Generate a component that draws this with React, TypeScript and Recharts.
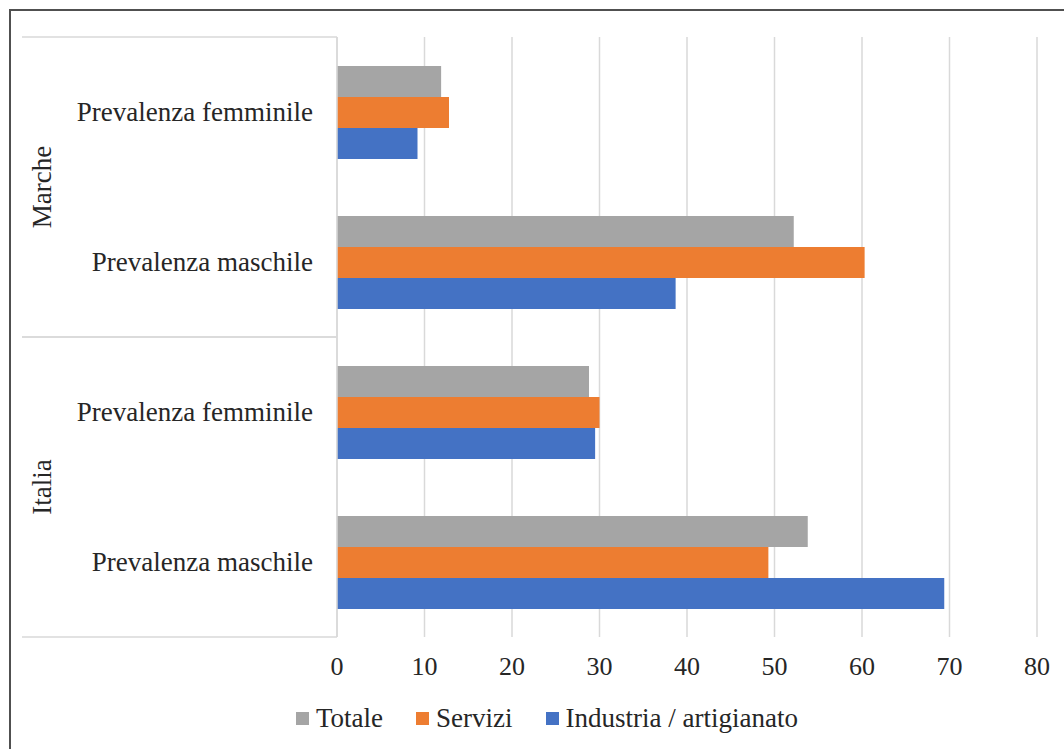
import React from "react";
import {
  BarChart,
  Bar,
  XAxis,
  YAxis,
  CartesianGrid,
  Legend,
} from "recharts";

// categories (two-level: region / prevalence)
const REGIONS = ["Marche", "Marche", "Italia", "Italia"];
const PREVALENZA = [
  "Prevalenza femminile",
  "Prevalenza maschile",
  "Prevalenza femminile",
  "Prevalenza maschile",
];

// series values (%)
const TOTALE = [11.9, 52.2, 28.8, 53.8];
const SERVIZI = [12.8, 60.3, 30.0, 49.3];
const INDUSTRIA = [9.2, 38.7, 29.5, 69.4];

const X_TICKS = [0, 10, 20, 30, 40, 50, 60, 70, 80];

const SERIES = [
  { key: "totale", name: "Totale", color: "#A5A5A5" },
  { key: "servizi", name: "Servizi", color: "#ED7D31" },
  { key: "industria", name: "Industria / artigianato", color: "#4472C4" },
];

const data = PREVALENZA.map((label, i) => ({
  id: `${REGIONS[i]}-${i}`,
  region: REGIONS[i],
  label,
  totale: TOTALE[i],
  servizi: SERVIZI[i],
  industria: INDUSTRIA[i],
}));

const W = 1064;
const H = 749;
const MARGIN = { top: 37, right: 27, bottom: 82, left: 22 };
const Y_AXIS_W = 315;
const X_AXIS_H = 30;
const PLOT_H = H - MARGIN.top - MARGIN.bottom - X_AXIS_H;
const STEP = PLOT_H / data.length;
const AXIS_LEFT = MARGIN.left;
const PLOT_LEFT = MARGIN.left + Y_AXIS_W;

const FONT = "'Liberation Serif', 'Times New Roman', serif";
const FONT_SIZE = 27;
const TEXT = "#262626";
const GRID = "#D9D9D9";

// category tick plus the outer region level (label + separators)
const CategoryTick = (props: any) => {
  const { x, y, payload } = props;
  const i = payload.index;
  const row = data[i];
  const first = i === 0 || data[i - 1].region !== row.region;
  const last = i === data.length - 1 || data[i + 1].region !== row.region;
  return (
    <g>
      <text
        x={x}
        y={y}
        textAnchor="end"
        dominantBaseline="central"
        fontFamily={FONT}
        fontSize={FONT_SIZE}
        fill={TEXT}
      >
        {row.label}
      </text>
      {first && (
        <>
          <line x1={AXIS_LEFT} x2={PLOT_LEFT} y1={y - STEP / 2} y2={y - STEP / 2} stroke={GRID} strokeWidth={1.5} />
          <text
            transform={`translate(${AXIS_LEFT + 20}, ${y + STEP / 2}) rotate(-90)`}
            textAnchor="middle"
            dominantBaseline="central"
            fontFamily={FONT}
            fontSize={FONT_SIZE}
            fill={TEXT}
          >
            {row.region}
          </text>
        </>
      )}
      {last && (
        <line x1={AXIS_LEFT} x2={PLOT_LEFT} y1={y + STEP / 2} y2={y + STEP / 2} stroke={GRID} strokeWidth={1.5} />
      )}
    </g>
  );
};

const LegendContent = () => (
  <div style={{ display: "flex", alignItems: "center", fontFamily: FONT, fontSize: FONT_SIZE, color: TEXT }}>
    {SERIES.map((s) => (
      <div key={s.key} style={{ display: "flex", alignItems: "center", marginRight: 33 }}>
        <span style={{ width: 13, height: 13, background: s.color, display: "inline-block", marginRight: 7 }} />
        <span>{s.name}</span>
      </div>
    ))}
  </div>
);

export default function App() {
  return (
    <div style={{ position: "absolute", left: 0, top: 0, width: W, height: H, background: "#fff", overflow: "hidden" }}>
      <div
        style={{
          position: "absolute",
          left: 9,
          top: 9,
          right: -4,
          bottom: -4,
          borderLeft: "2px solid #505050",
          borderTop: "2px solid #505050",
        }}
      />
      <BarChart
        width={W}
        height={H}
        data={data}
        layout="vertical"
        margin={MARGIN}
        barCategoryGap="19.3%"
        barGap={0}
      >
        <CartesianGrid horizontal={false} stroke={GRID} strokeWidth={1.5} />
        <XAxis
          type="number"
          domain={[0, 80]}
          ticks={X_TICKS}
          height={X_AXIS_H}
          axisLine={false}
          tickLine={false}
          tickMargin={14}
          tick={{ fontFamily: FONT, fontSize: 26, fill: TEXT }}
        />
        <YAxis
          type="category"
          dataKey="id"
          width={Y_AXIS_W}
          axisLine={{ stroke: GRID, strokeWidth: 1.5 }}
          tickLine={false}
          tickMargin={18}
          tick={<CategoryTick />}
          interval={0}
        />
        <Legend
          layout="vertical"
          align="center"
          verticalAlign="middle"
          content={<LegendContent />}
          wrapperStyle={{ left: 296, top: 703, width: "auto" }}
        />
        {SERIES.map((s) => (
          <Bar key={s.key} dataKey={s.key} name={s.name} fill={s.color} isAnimationActive={false} />
        ))}
      </BarChart>
    </div>
  );
}
